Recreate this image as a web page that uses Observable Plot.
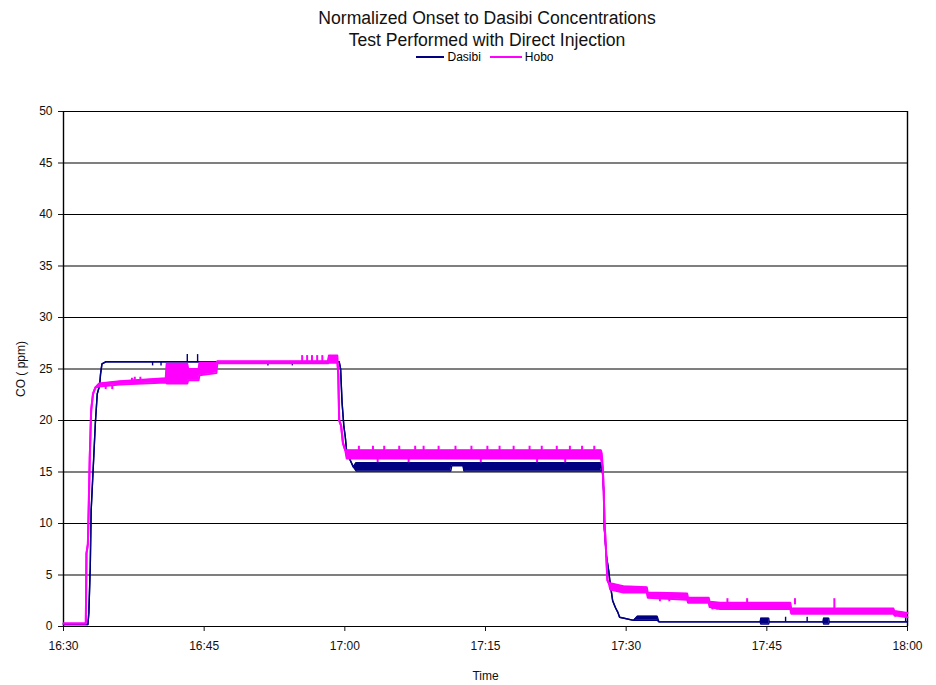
<!DOCTYPE html>
<html>
<head>
<meta charset="utf-8">
<script src="https://cdn.jsdelivr.net/npm/d3@7"></script>
<script src="https://cdn.jsdelivr.net/npm/@observablehq/plot@0.6"></script>
<style>
  html, body { margin: 0; padding: 0; background: #fff; }
  body { width: 936px; height: 685px; overflow: hidden; font-family: "Liberation Sans", Arial, sans-serif; color: #000; }
  #head { position: relative; width: 936px; height: 70px; }
  #title { position: absolute; top: 7px; left: 19px; width: 936px; text-align: center; font-size: 17.6px; line-height: 22px; color: #111; }
  #legend { position: absolute; top: 51px; left: 17px; width: 936px; display: flex; justify-content: center; align-items: center; font-size: 12px; line-height: 12px; }
  .sw { display: inline-block; height: 2px; margin-right: 3px; }
</style>
</head>
<body>
<div id="head">
  <div id="title">Normalized Onset to Dasibi Concentrations<br>Test Performed with Direct Injection</div>
  <div id="legend">
    <span class="sw" style="width:28px;background:#000080"></span><span style="margin-right:9px">Dasibi</span>
    <span class="sw" style="width:32px;background:#ff00ff"></span><span>Hobo</span>
  </div>
</div>
<div id="chart"></div>
<script>
// x values are minutes after 16:30
const tickMinutes = [0, 15, 30, 45, 60, 75, 90];
const tickLabels = ["16:30", "16:45", "17:00", "17:15", "17:30", "17:45", "18:00"];
const yTicks = [0, 5, 10, 15, 20, 25, 30, 35, 40, 45, 50];
const seriesNames = ["Dasibi", "Hobo"];

// Dasibi: time, lower and upper edge of the (flickering) trace
const dasibiT  = [0, 2.6, 2.7, 2.85, 2.95, 3.2, 3.4, 3.6, 3.85, 3.95, 4.1, 4.5, 29.4, 29.55, 29.7, 29.9, 30.05, 30.2, 30.5, 30.9, 31.2, 41.3, 41.4, 42.6, 42.7, 57.3, 57.43, 57.6, 57.68, 57.9, 58.14, 58.25, 58.4, 58.56, 58.85, 59.1, 59.3, 60.8, 61.2, 63.3, 63.5, 74.3, 74.35, 75.2, 75.25, 81.0, 81.05, 81.6, 81.65, 90];
const dasibiLo = [0.2, 0.2, 1.3, 5.7, 11.3, 16, 19.8, 22.6, 23.4, 24.5, 25.5, 25.7, 25.7, 25.0, 21.8, 19.4, 18.4, 16.9, 16.3, 15.5, 15.1, 15.1, 15.6, 15.6, 15.1, 15.1, 15.6, 13.2, 9.4, 6.8, 5.4, 4.5, 3.5, 2.5, 1.85, 1.4, 0.9, 0.6, 0.6, 0.6, 0.45, 0.45, 0.25, 0.25, 0.45, 0.45, 0.25, 0.25, 0.45, 0.45];
const dasibiHi = [0.2, 0.2, 1.3, 5.7, 11.3, 16, 19.8, 22.6, 23.4, 24.5, 25.5, 25.7, 25.7, 25.0, 21.8, 19.4, 18.4, 16.9, 16.3, 15.5, 15.9, 15.9, 15.9, 15.9, 15.9, 15.9, 15.6, 13.2, 9.4, 6.8, 5.4, 4.5, 3.5, 2.5, 1.85, 1.4, 0.9, 0.6, 1.0, 1.0, 0.45, 0.45, 0.8, 0.8, 0.45, 0.45, 0.8, 0.8, 0.45, 0.45];
// Dasibi isolated spikes: time, from, to
const dasibiSpikeT  = [9.5, 10.4, 13.2, 14.3, 21.8, 24.4, 77.0, 79.3, 89.8];
const dasibiSpikeY1 = [25.7, 25.7, 25.7, 25.7, 25.7, 25.7, 0.45, 0.45, 0.45];
const dasibiSpikeY2 = [25.3, 25.3, 26.4, 26.4, 25.3, 25.3, 0.9, 0.9, 0.9];

// Hobo: time, lower and upper edge of the (flickering) trace
const hoboT  = [0, 2.38, 2.45, 2.6, 2.7, 2.8, 2.95, 3.15, 3.4, 3.8, 6.0, 10.9, 11.0, 13.2, 13.3, 14.4, 14.5, 16.3, 16.4, 28.2, 28.3, 29.2, 29.3, 29.4, 29.6, 29.8, 30.05, 30.2, 57.3, 57.4, 57.5, 57.6, 57.7, 57.85, 58.0, 58.15, 58.3, 59.7, 62.2, 62.3, 66.5, 66.6, 68.8, 68.9, 70.0, 77.5, 77.6, 88.5, 88.6, 90];
const hoboLo = [0.3, 0.3, 7.1, 8.0, 12, 16.4, 21, 22.6, 23.2, 23.3, 23.5, 23.7, 23.6, 23.6, 23.9, 23.9, 24.4, 24.6, 25.55, 25.55, 25.6, 25.6, 24.5, 20, 19.5, 17.8, 17.1, 16.3, 16.3, 15.9, 15.5, 13.2, 10, 7.4, 4.5, 4.2, 3.6, 3.3, 3.3, 2.8, 2.6, 2.3, 2.3, 1.9, 1.7, 1.7, 1.25, 1.25, 1.1, 0.9];
const hoboHi = [0.3, 0.3, 7.1, 8.0, 12, 16.4, 21, 22.6, 23.2, 23.6, 23.8, 24.1, 25.5, 25.5, 25.0, 25.0, 25.6, 25.6, 25.75, 25.75, 26.3, 26.3, 24.5, 20, 19.5, 17.8, 17.1, 17.1, 17.1, 16.8, 15.5, 13.2, 10, 7.4, 4.5, 4.2, 4.2, 3.9, 3.8, 3.3, 3.2, 2.8, 2.8, 2.4, 2.3, 2.3, 1.75, 1.75, 1.5, 1.3];
// Hobo isolated spikes: time, from, to
const hoboSpikeT  = [4.5, 5.2, 7.3, 7.6, 8.2, 12.0, 15.2, 15.8, 25.45, 25.98, 26.5, 27.05, 27.6, 31.5, 33.0, 33.5, 34.2, 35.8, 36.8, 37.5, 38.4, 40.0, 41.8, 43.5, 44.5, 45.2, 46.5, 48.0, 49.7, 50.5, 51.0, 52.6, 53.5, 54.0, 55.3, 56.6, 63.6, 64.6, 69.2, 69.7, 70.8, 72.9, 78.0, 82.2, 88.7, 89.5];
const hoboSpikeY1 = [23.4, 23.4, 23.6, 23.7, 23.7, 24.0, 25.5, 25.5, 25.7, 25.7, 25.7, 25.7, 25.7, 17.0, 17.0, 16.4, 17.0, 17.0, 16.4, 17.0, 17.0, 17.0, 17.0, 17.0, 16.4, 17.0, 17.0, 17.0, 17.0, 16.4, 17.0, 17.0, 16.4, 17.0, 17.0, 17.0, 2.9, 2.9, 2.2, 2.2, 2.2, 2.2, 2.1, 1.7, 1.3, 1.3];
const hoboSpikeY2 = [23.0, 23.0, 24.1, 24.2, 24.2, 24.5, 24.6, 24.6, 26.3, 26.3, 26.3, 26.3, 26.3, 17.5, 17.5, 15.9, 17.5, 17.5, 15.9, 17.5, 17.5, 17.5, 17.5, 17.5, 15.9, 17.5, 17.5, 17.5, 17.5, 15.9, 17.5, 17.5, 15.9, 17.5, 17.5, 17.5, 2.4, 2.4, 1.6, 1.6, 2.7, 2.7, 2.7, 2.7, 0.9, 0.9];

const colors = {Dasibi: "#000080", Hobo: "#ff00ff"};
const widths = {Dasibi: 1.4, Hobo: 2};

const dasibi = dasibiT.map((t, i) => ({t, lo: dasibiLo[i], hi: dasibiHi[i]}));
const hobo = hoboT.map((t, i) => ({t, lo: hoboLo[i], hi: hoboHi[i]}));
const dasibiSpikes = dasibiSpikeT.map((t, i) => ({t, y1: dasibiSpikeY1[i], y2: dasibiSpikeY2[i]}));
const hoboSpikes = hoboSpikeT.map((t, i) => ({t, y1: hoboSpikeY1[i], y2: hoboSpikeY2[i]}));

function seriesMarks(data, spikes, name) {
  const c = colors[name], w = widths[name];
  return [
    Plot.areaY(data, {x: "t", y1: "lo", y2: "hi", fill: c}),
    Plot.line(data, {x: "t", y: "lo", stroke: c, strokeWidth: w}),
    Plot.line(data, {x: "t", y: "hi", stroke: c, strokeWidth: w}),
    Plot.ruleX(spikes, {x: "t", y1: "y1", y2: "y2", stroke: c, strokeWidth: w})
  ];
}

const chart = Plot.plot({
  width: 936,
  height: 615,
  marginLeft: 63,
  marginRight: 29,
  marginTop: 41,
  marginBottom: 59,
  style: {fontFamily: "'Liberation Sans', Arial, sans-serif", fontSize: "12px", color: "#111", background: "#fff"},
  x: {domain: [0, 90]},
  y: {domain: [0, 50]},
  marks: [
    Plot.ruleY(yTicks, {stroke: "#000", strokeWidth: 1.2}),
    Plot.ruleX([0, 90], {stroke: "#000", strokeWidth: 1.4}),
    Plot.axisY({ticks: yTicks, tickSize: 5, tickPadding: 6, label: "CO ( ppm)", labelAnchor: "center", labelArrow: "none", labelOffset: 47}),
    Plot.axisX({ticks: tickMinutes, tickFormat: d => tickLabels[tickMinutes.indexOf(d)], tickSize: 5, tickPadding: 10, label: "Time", labelAnchor: "center", labelArrow: "none", labelOffset: 53}),
    ...seriesMarks(dasibi, dasibiSpikes, seriesNames[0]),
    ...seriesMarks(hobo, hoboSpikes, seriesNames[1])
  ]
});
document.getElementById("chart").appendChild(chart);
</script>
</body>
</html>
